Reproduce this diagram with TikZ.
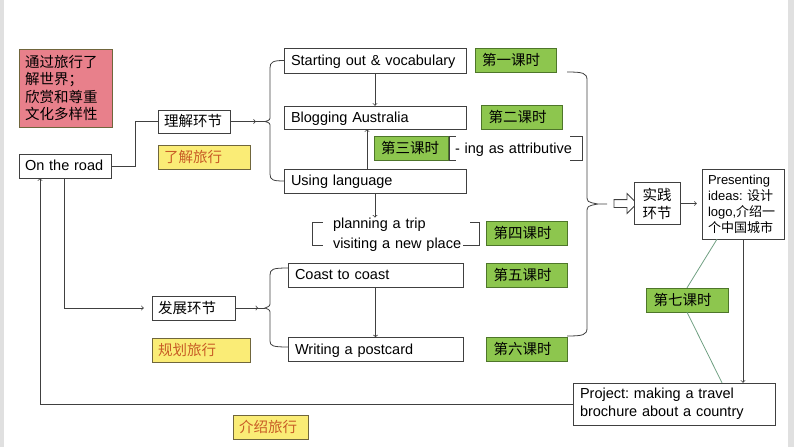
\documentclass[tikz,border=0pt]{standalone}
\usepackage{fontspec}
\setmainfont{Liberation Sans}
\newfontfamily\cjk{Noto Sans CJK SC}
\usetikzlibrary{positioning,arrows,shapes.arrows,decorations.markings}

\definecolor{linegray}{RGB}{64,64,64}
\definecolor{lessongreen}{RGB}{141,198,78}
\definecolor{lessonedge}{RGB}{78,118,42}
\definecolor{noteyellow}{RGB}{250,236,118}
\definecolor{noteedge}{RGB}{112,102,60}
\definecolor{notetext}{RGB}{200,92,38}
\definecolor{goalred}{RGB}{232,128,139}
\definecolor{linkgreen}{RGB}{112,160,130}
\definecolor{slidegray}{RGB}{224,224,224}

\begin{document}
\frenchspacing
\begin{tikzpicture}[x=1pt,y=-1pt,on grid,>=to,
  font=\fontsize{14.5}{17.5}\selectfont,
  box/.style={draw=linegray,fill=white,inner xsep=7pt,inner ysep=0pt,
    minimum height=24pt,align=left,text height=10.5pt,text depth=1pt},
  cjkbox/.style={box,font=\cjk\fontsize{14.5}{17.5}\selectfont,
    inner xsep=6pt,text height=11.5pt,text depth=1.5pt},
  lesson/.style={draw=lessonedge,fill=lessongreen,inner xsep=7pt,inner ysep=0pt,
    minimum height=24pt,text width=67pt,align=left,
    font=\cjk\fontsize{14.5}{17.5}\selectfont,text height=11.5pt,text depth=1.5pt},
  note/.style={draw=noteedge,fill=noteyellow,text=notetext,inner xsep=6pt,inner ysep=0pt,
    minimum height=24pt,align=left,
    font=\cjk\fontsize{14.5}{17.5}\selectfont,text height=11.5pt,text depth=1.5pt},
  line/.style={draw=linegray,line width=0.8pt},
  tarr/.style={line,postaction=decorate,
    decoration={markings,mark=at position #1 with {\arrow{>}}}},
  glink/.style={draw=linkgreen,line width=0.8pt}]

\useasboundingbox (0,0) rectangle (794,447);
\fill[slidegray] (0,0) rectangle (3.5,447);
\fill[slidegray] (788,0) rectangle (794,447);

% left column
\node[draw=noteedge,fill=goalred,inner xsep=6pt,inner ysep=0pt,text width=81pt,
  minimum height=78pt,align=left,font=\cjk\fontsize{14.5}{17.5}\selectfont]
  (goal) at (65.5,88) {通过旅行了\\解世界；\\欣赏和尊重\\文化多样性};
\node[box,text width=80pt,inner xsep=6pt] (road) at (65,166) {On the road};
\node[cjkbox,text width=60pt,minimum height=23pt] (lijie) at (194,121.5) {理解环节};
\node[note,text width=80pt] (liaojie) at (204,157.5) {了解旅行};
\node[cjkbox,text width=71pt] (fazhan) at (193.5,308) {发展环节};
\node[note,text width=86pt] (guihua) at (201,350) {规划旅行};
\node[note,text width=63pt] (jieshao) at (270.5,427) {介绍旅行};

% first group
\node[box,text width=168pt,minimum height=25pt] (start) at (375,60.5) {Starting out \& vocabulary};
\node[box,text width=168pt,minimum height=23pt] (blog) [below=57pt of start] {Blogging Australia};
\node[box,text width=168pt] (using) [below=63.5pt of blog] {Using language};
\node[lesson] (k1) [right=140.5pt of start] {第一课时};
\node[lesson] (k2) [right=147pt of blog] {第二课时};
\node[lesson,text width=60pt] (k3) at (411,148.5) {第三课时};
\node[inner xsep=5pt,inner ysep=0pt,minimum height=24pt,text width=122pt,align=left,
  text height=10.5pt,text depth=1pt] (ing) [right=105pt of k3] {- ing as attributive};
\node[inner sep=0pt,text width=129pt,align=left,
  font=\fontsize{14.5}{20}\selectfont] (plan) at (397.5,234.5) {planning a trip\\visiting a new place};

% second group
\node[box,text width=161pt] (coast) at (375.5,275) {Coast to coast};
\node[box,text width=161pt] (post) [below=74.5pt of coast] {Writing a postcard};
\node[lesson] (k5) [right=151.5pt of coast] {第五课时};
\node[lesson] (k6) [right=151.5pt of post] {第六课时};
\node[lesson] (k4) [above=42pt of k5] {第四课时};

% right side
\node[single arrow,draw=linegray,line width=0.8pt,fill=white,inner sep=3.5pt,
  minimum height=23pt,minimum width=19pt,single arrow head extend=6pt] (hollow) at (623.5,203.5) {};
\node[cjkbox,inner xsep=8pt,text width=30pt,align=center,text height=,text depth=,
  inner ysep=3pt,minimum height=42pt,font=\cjk\fontsize{14.5}{18}\selectfont]
  (shijian) at (657,203.5) {实践\\环节};
\node[draw=linegray,fill=white,inner xsep=6pt,inner ysep=0pt,text width=70pt,
  minimum height=70pt,align=left,font=\fontsize{13}{16}\selectfont]
  (present) at (743,204) {Presenting\\ideas: {\cjk 设计}\\logo,{\cjk 介绍一}\\{\cjk 个中国城市}};
\node[lesson,minimum width=82pt] (k7) at (687,300) {第七课时};
\node[draw=linegray,fill=white,inner xsep=7pt,inner ysep=0pt,text width=188pt,
  minimum height=42pt,align=left,font=\fontsize{14.5}{18}\selectfont]
  (project) at (674,404) {Project: making a travel\\brochure about a country};

\coordinate (b1) at (265,121.5);
\coordinate (b2) at (265,308);
\coordinate (b3) at (607,204);

% braces
\draw[line] (start.west) .. controls (273,60.5) and (270,62) .. (270,68) -- (270,116)
  .. controls (270,120) .. (b1) .. controls (270,123) .. (270,127) -- (270,174)
  .. controls (270,180) and (273,181) .. (using.west);
\draw[line] (288,268) .. controls (273,268) and (270,269) .. (270,275) -- (270,302)
  .. controls (270,306) .. (b2) .. controls (270,310) .. (270,314) -- (270,341)
  .. controls (270,346) and (273,347) .. (288,347);
\draw[line] (567,72) .. controls (583,72) and (587,73) .. (587,80) -- (587,195)
  .. controls (587,202) .. (598,204) -- (b3) -- (598,204)
  .. controls (587,206) .. (587,213) -- (587,328)
  .. controls (587,335) and (583,336) .. (567,336);
\draw[line] ([xshift=6pt]ing.north west) -- (ing.north west) -- (ing.south west) -- ([xshift=6pt]ing.south west);
\draw[line] ([xshift=-12pt]ing.north east) -- (ing.north east) -- (ing.south east) -- ([xshift=-12pt]ing.south east);
\draw[line] ([xshift=-10pt,yshift=12.5pt]plan.west) -- ++(-10pt,0) -- ++(0,-23pt) -- ++(10pt,0);
\draw[line] ([xshift=8pt,yshift=12.5pt]plan.east) -- ++(9pt,0) -- ++(0,-23pt) -- ++(-16pt,0);

% connectors
\draw[line] (road.east) -- ++(24pt,0) |- (lijie.west);
\draw[line,->,shorten >=8pt] ([xshift=-1pt]road.south) |- (fazhan.west);
\draw[line,->] (project.west) -| ([xshift=-25pt]road.south);
\draw[tarr=0.74] (lijie.east) -- (b1);
\draw[tarr=0.77] (fazhan.east) -- (b2);
\draw[line,->] (start) -- (blog);
\draw[line,->] ([xshift=-8pt]using.north) -- ([xshift=-8pt]blog.south);
\draw[line,->] (using.south) -- (using.south |- plan.north);
\draw[line,->] (coast) -- (post);
\draw[line,->,shorten >=5pt] (shijian.east) -- (shijian.east -| present.west);
\draw[line,->] (present.south) -- (present.south |- project.north);
\draw[glink] ([xshift=-26pt]present.south) -- (k7.north);
\draw[glink] (k7.south) -- ([xshift=48pt]project.north);
\end{tikzpicture}
\end{document}
